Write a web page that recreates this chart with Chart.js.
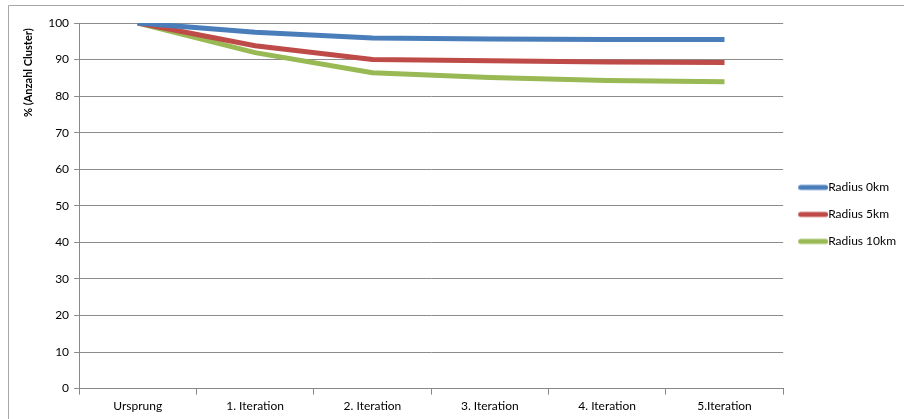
<!DOCTYPE html>
<html>
<head>
<meta charset="utf-8">
<script src="https://cdn.jsdelivr.net/npm/chart.js@4/dist/chart.umd.min.js"></script>
<style>
  html, body { margin: 0; padding: 0; background: #fff; }
  #wrap { position: relative; width: 904px; height: 419px; }
</style>
</head>
<body>
<div id="wrap"><canvas id="c" width="904" height="419"></canvas></div>
<script>
// Iteration steps and share of remaining clusters (%) per radius
const categories = ['Ursprung', '1. Iteration', '2. Iteration', '3. Iteration', '4. Iteration', '5.Iteration'];
const radius0km  = [100, 97.5, 95.9, 95.6, 95.5, 95.5];
const radius5km  = [100, 93.8, 90.0, 89.7, 89.3, 89.2];
const radius10km = [100, 91.9, 86.4, 85.1, 84.3, 83.9];
const seriesNames = ['Radius 0km', 'Radius 5km', 'Radius 10km'];
const yTicks = [0, 10, 20, 30, 40, 50, 60, 70, 80, 90, 100];

const font = "Lato, 'Open Sans', 'Liberation Sans', sans-serif";

// thin outer frame of the chart object
const framePlugin = {
  id: 'frame',
  beforeDraw(chart) {
    const ctx = chart.ctx;
    ctx.save();
    ctx.strokeStyle = '#a6a6a6';
    ctx.lineWidth = 1;
    ctx.beginPath();
    ctx.moveTo(8.5, chart.height);
    ctx.lineTo(8.5, 5.5);
    ctx.lineTo(chart.width, 5.5);
    ctx.stroke();
    ctx.restore();
  }
};

// legend marker: short thick line with round caps, ending where the label starts
function lineMarker(color) {
  const c = document.createElement('canvas');
  c.width = 36; c.height = 8;
  const g = c.getContext('2d');
  g.strokeStyle = color;
  g.lineWidth = 5;
  g.lineCap = 'round';
  g.beginPath();
  g.moveTo(8.5, 4);
  g.lineTo(33.5, 4);
  g.stroke();
  return c;
}

const mk = (label, data, color) => ({
  label, data,
  borderColor: color, backgroundColor: color,
  borderWidth: 5, pointRadius: 0, pointHoverRadius: 0,
  pointStyle: lineMarker(color),
  tension: 0, fill: false
});

new Chart(document.getElementById('c'), {
  type: 'line',
  data: {
    labels: categories,
    datasets: [
      mk(seriesNames[0], radius0km, '#4a7ebb'),
      mk(seriesNames[1], radius5km, '#be4b48'),
      mk(seriesNames[2], radius10km, '#98b954')
    ]
  },
  plugins: [framePlugin],
  options: {
    responsive: false,
    animation: false,
    layout: { padding: { top: 23, left: 22, right: -2, bottom: 2 } },
    plugins: {
      tooltip: { enabled: false },
      legend: {
        position: 'right',
        fullSize: false,
        title: { display: true, text: ' ', font: { size: 11 }, padding: 2 },
        labels: {
          usePointStyle: true, pointStyleWidth: 24, boxHeight: 8, padding: 15,
          color: '#000',
          font: { family: font, size: 12 }
        }
      }
    },
    scales: {
      x: {
        offset: true,
        grid: { offset: true, drawOnChartArea: false, color: '#888', tickLength: 6 },
        border: { color: '#888' },
        ticks: { color: '#000', font: { family: font, size: 12 }, padding: 4, maxRotation: 0 }
      },
      y: {
        min: 0, max: 100,
        afterBuildTicks(axis) { axis.ticks = yTicks.map(v => ({ value: v })); },
        grid: { color: '#8c8c8c', tickLength: 5 },
        border: { color: '#888' },
        ticks: { color: '#000', font: { family: font, size: 12 }, padding: 5 },
        title: {
          display: true, text: '% (Anzahl Cluster)  ', align: 'end',
          color: '#000', font: { family: font, size: 11, weight: 'bold' }, padding: { top: 0, bottom: 8 }
        }
      }
    }
  }
});
</script>
</body>
</html>
